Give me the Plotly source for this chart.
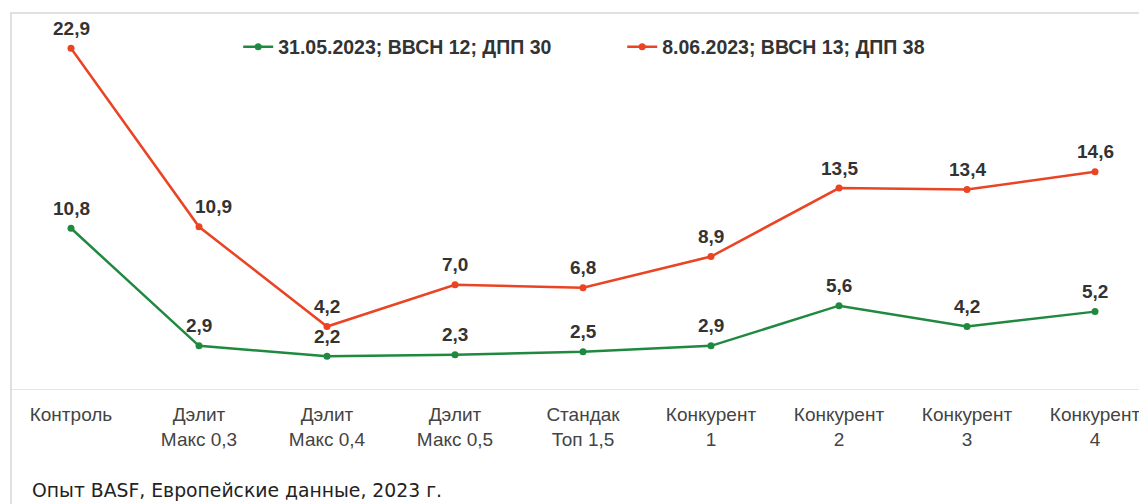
import plotly.graph_objects as go

# categories and series values
categories = [
    "Контроль",
    "Дэлит<br>Макс 0,3",
    "Дэлит<br>Макс 0,4",
    "Дэлит<br>Макс 0,5",
    "Стандак<br>Топ 1,5",
    "Конкурент<br>1",
    "Конкурент<br>2",
    "Конкурент<br>3",
    "Конкурент<br>4",
]
series_green = [10.8, 2.9, 2.2, 2.3, 2.5, 2.9, 5.6, 4.2, 5.2]
series_red = [22.9, 10.9, 4.2, 7.0, 6.8, 8.9, 13.5, 13.4, 14.6]
name_green = "31.05.2023; ВВСН 12; ДПП 30"
name_red = "8.06.2023; ВВСН 13; ДПП 38"
caption = "Опыт BASF, Европейские данные, 2023 г."

GREEN = "#1f8a3f"
RED = "#ea4424"

# page body has an 8px margin, so the figure is a bit smaller than the window
W, H = 1139, 496
L, R, T, B = 3, 0, 6, 115

x_idx = list(range(len(categories)))

# small horizontal nudges for labels that would sit on the line
label_nudge = {("red", 1): 14}


def fmt(v):
    return f"{v:.1f}".replace(".", ",")


fig = go.Figure()
annotations = []
for key, vals, name, color in [("green", series_green, name_green, GREEN),
                               ("red", series_red, name_red, RED)]:
    fig.add_trace(go.Scatter(
        x=x_idx, y=vals, name=name,
        mode="lines+markers",
        line=dict(color=color, width=2.5),
        marker=dict(color=color, size=7),
        cliponaxis=False,
    ))
    # value labels above each point
    for xi, v in zip(x_idx, vals):
        annotations.append(dict(
            x=xi, y=v, xref="x", yref="y", text=fmt(v), showarrow=False,
            yshift=20, xshift=label_nudge.get((key, xi), 0), yanchor="middle",
            font=dict(family="Liberation Sans, Arial", size=19, color="#333333", weight="bold"),
        ))

annotations.append(dict(
    text=caption, xref="paper", yref="paper",
    x=(30 - 11) / (W - L), y=(389 - 490) / 375, xanchor="left", yanchor="middle",
    showarrow=False,
    font=dict(family="DejaVu Sans", size=18.8, color="#222222"),
))

fig.update_layout(
    width=W, height=H,
    margin=dict(l=L, r=R, t=T, b=B),
    paper_bgcolor="white", plot_bgcolor="white",
    showlegend=True,
    legend=dict(
        orientation="h", x=0.2, y=0.912, xanchor="left", yanchor="middle",
        font=dict(family="Liberation Sans, Arial", size=19.5, color="#333333", weight="bold"),
        itemwidth=30, entrywidth=339, bgcolor="rgba(0,0,0,0)",
    ),
    xaxis=dict(
        range=[-60 / 128, 8 + 52 / 128],
        tickvals=x_idx, ticktext=categories,
        showgrid=False, zeroline=False,
        showline=True, linecolor="#e6e6e6", linewidth=1,
        ticks="outside", ticklen=8, tickcolor="rgba(0,0,0,0)",
        tickfont=dict(family="Liberation Sans, Arial", size=19, color="#444444"),
    ),
    yaxis=dict(range=[0, 25.2], visible=False),
    shapes=[dict(
        type="rect", xref="paper", yref="paper",
        x0=0, x1=1.05, y0=-0.6, y1=(389 - 13) / 375,
        line=dict(color="#d6d6d6", width=1.5), fillcolor="rgba(0,0,0,0)",
    )],
    annotations=annotations,
)

fig.write_html("out.html")
